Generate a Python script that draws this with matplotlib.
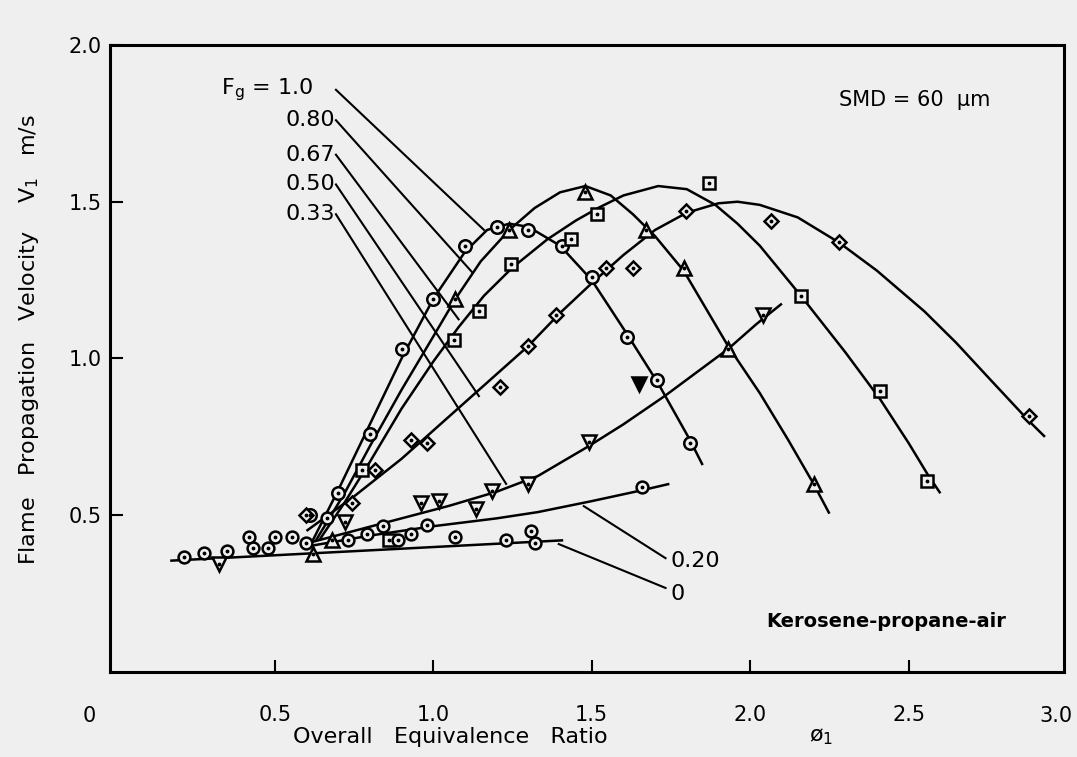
import matplotlib.pyplot as plt

# Curvas ajustadas: razao de equivalencia x velocidade
phi_f100 = [0.62, 0.70, 0.80, 0.90, 1.00, 1.10, 1.17, 1.24, 1.30, 1.40, 1.50, 1.61, 1.71, 1.81, 1.85]
v_f100 = [0.42, 0.58, 0.79, 1.00, 1.19, 1.34, 1.41, 1.43, 1.42, 1.36, 1.25, 1.08, 0.92, 0.74, 0.66]

phi_f080 = [0.63, 0.72, 0.80, 0.90, 1.00, 1.07, 1.15, 1.24, 1.32, 1.40, 1.48, 1.56, 1.63, 1.70,
            1.79, 1.86, 1.93, 2.03, 2.12, 2.20, 2.25]
v_f080 = [0.42, 0.57, 0.72, 0.90, 1.07, 1.19, 1.31, 1.41, 1.48, 1.53, 1.55, 1.52, 1.46, 1.39,
          1.28, 1.16, 1.04, 0.89, 0.74, 0.60, 0.505]

phi_f067 = [0.64, 0.72, 0.80, 0.90, 1.00, 1.08, 1.16, 1.25, 1.36, 1.45, 1.52, 1.60, 1.71, 1.80,
            1.89, 1.96, 2.03, 2.16, 2.30, 2.41, 2.50, 2.56, 2.60]
v_f067 = [0.42, 0.54, 0.67, 0.84, 0.99, 1.10, 1.20, 1.29, 1.38, 1.44, 1.48, 1.52, 1.55, 1.54,
          1.49, 1.43, 1.36, 1.20, 1.02, 0.87, 0.73, 0.63, 0.57]

phi_f050 = [0.60, 0.75, 0.90, 1.00, 1.10, 1.20, 1.30, 1.40, 1.50, 1.60, 1.70, 1.80, 1.90, 1.96,
            2.03, 2.15, 2.28, 2.40, 2.55, 2.65, 2.76, 2.88, 2.93]
v_f050 = [0.45, 0.56, 0.68, 0.77, 0.86, 0.95, 1.04, 1.145, 1.24, 1.33, 1.41, 1.465, 1.495, 1.50,
          1.49, 1.45, 1.37, 1.28, 1.15, 1.05, 0.93, 0.80, 0.75]

phi_f033 = [0.60, 0.75, 0.90, 1.05, 1.20, 1.33, 1.49, 1.60, 1.73, 1.85, 1.93, 2.02, 2.10]
v_f033 = [0.41, 0.45, 0.49, 0.53, 0.575, 0.625, 0.72, 0.79, 0.88, 0.97, 1.03, 1.11, 1.175]

phi_f020 = [0.60, 0.80, 1.00, 1.20, 1.33, 1.50, 1.66, 1.745]
v_f020 = [0.40, 0.435, 0.465, 0.49, 0.51, 0.545, 0.58, 0.60]

phi_f000 = [0.17, 1.41]
v_f000 = [0.355, 0.42]

# Pontos experimentais
pts_f100_x = [0.61, 0.70, 0.80, 0.90, 1.00, 1.10, 1.20, 1.30, 1.405, 1.50, 1.61, 1.705, 1.81]
pts_f100_y = [0.50, 0.57, 0.76, 1.03, 1.19, 1.36, 1.42, 1.41, 1.36, 1.26, 1.07, 0.93, 0.73]

pts_f080_x = [0.62, 0.68, 1.07, 1.24, 1.48, 1.67, 1.79, 1.93, 2.20]
pts_f080_y = [0.375, 0.42, 1.19, 1.41, 1.53, 1.41, 1.29, 1.03, 0.60]

pts_f067_x = [0.775, 1.065, 1.144, 1.245, 1.434, 1.516, 1.87, 2.16, 2.41, 2.557, 0.86]
pts_f067_y = [0.645, 1.06, 1.15, 1.30, 1.38, 1.46, 1.56, 1.20, 0.895, 0.61, 0.42]

pts_f050_x = [0.60, 0.745, 0.816, 0.93, 0.98, 1.21, 1.30, 1.387, 1.544, 1.63, 1.797, 2.065, 2.28, 2.88]
pts_f050_y = [0.50, 0.54, 0.645, 0.74, 0.73, 0.91, 1.04, 1.14, 1.287, 1.29, 1.47, 1.44, 1.37, 0.815]

pts_f033_x = [0.323, 0.72, 0.96, 1.017, 1.135, 1.185, 1.30, 1.49, 2.04]
pts_f033_y = [0.344, 0.48, 0.54, 0.545, 0.52, 0.577, 0.60, 0.735, 1.14]
pts_f033_cheio_x = [1.65]
pts_f033_cheio_y = [0.92]

pts_f020_x = [0.665, 0.79, 0.84, 0.93, 0.98, 1.66]
pts_f020_y = [0.49, 0.44, 0.465, 0.44, 0.47, 0.59]

pts_f000_x = [0.213, 0.276, 0.35, 0.42, 0.43, 0.48, 0.50, 0.555, 0.60, 0.73, 0.89, 1.07, 1.23, 1.31, 1.32]
pts_f000_y = [0.366, 0.38, 0.385, 0.43, 0.395, 0.395, 0.43, 0.43, 0.41, 0.42, 0.42, 0.43, 0.42, 0.45, 0.41]

# Rotulos das curvas (F_g) e pontas das linhas de chamada
rotulos = ["0.80", "0.67", "0.50", "0.33"]
rotulos_y = [1.76, 1.65, 1.555, 1.46]
chamada_fim_x = [1.121, 1.08, 1.144, 1.23]
chamada_fim_y = [1.277, 1.125, 0.88, 0.60]

xticks = [0.5, 1.0, 1.5, 2.0, 2.5]
xtick_labels = ["0.5", "1.0", "1.5", "2.0", "2.5"]
yticks = [0.5, 1.0, 1.5, 2.0]
ytick_labels = ["0.5", "1.0", "1.5", "2.0"]

fundo = '#efefef'
fig = plt.figure(figsize=(10.77, 7.57), dpi=100, facecolor=fundo)
ax = fig.add_axes([0.1021, 0.1123, 0.8858, 0.8283], facecolor=fundo)

lw = 1.8
for px, py in [(phi_f100, v_f100), (phi_f080, v_f080), (phi_f067, v_f067), (phi_f050, v_f050),
               (phi_f033, v_f033), (phi_f020, v_f020), (phi_f000, v_f000)]:
    ax.plot(px, py, color='k', lw=lw, solid_capstyle='butt', zorder=2)


def marcadores(xs, ys, m, ms, cheio=False):
    ax.plot(xs, ys, ls='', marker=m, ms=ms, mfc='k' if cheio else fundo, mec='k', mew=1.8, zorder=3)
    ax.plot(xs, ys, ls='', marker='.', ms=3.5, color='k', zorder=4)


marcadores(pts_f100_x, pts_f100_y, 'o', 9)
marcadores(pts_f080_x, pts_f080_y, '^', 9.5)
marcadores(pts_f067_x, pts_f067_y, 's', 8.5)
marcadores(pts_f050_x, pts_f050_y, 'D', 7.5)
marcadores(pts_f033_x, pts_f033_y, 'v', 9.5)
marcadores(pts_f033_cheio_x, pts_f033_cheio_y, 'v', 9.5, cheio=True)
marcadores(pts_f020_x, pts_f020_y, 'o', 8.5)
marcadores(pts_f000_x, pts_f000_y, 'o', 8.5)

# linhas de chamada
ax.plot([0.693, 1.16], [1.857, 1.41], color='k', lw=1.5)
for ly, fx, fy in zip(rotulos_y, chamada_fim_x, chamada_fim_y):
    ax.plot([0.693, fx], [ly, fy], color='k', lw=1.5)
ax.plot([1.733, 1.475], [0.363, 0.529], color='k', lw=1.5)
ax.plot([1.733, 1.396], [0.268, 0.408], color='k', lw=1.5)

fs = 15
ax.text(0.33, 1.857, r'$\mathregular{F_g}$ = 1.0', fontsize=16, va='center', ha='left')
for r, ly in zip(rotulos, rotulos_y):
    ax.text(0.69, ly, r, fontsize=16, va='center', ha='right')
ax.text(1.75, 0.354, "0.20", fontsize=16, va='center', ha='left')
ax.text(1.75, 0.25, "0", fontsize=16, va='center', ha='left')
ax.text(2.28, 1.825, "SMD = 60  μm", fontsize=fs, va='center', ha='left')
ax.text(2.05, 0.16, "Kerosene-propane-air", fontsize=14, va='center', ha='left', fontweight='bold')

ax.set_xlim(-0.02, 2.99)
ax.set_ylim(0, 2.0)
ax.set_xticks(xticks)
ax.set_xticklabels(xtick_labels)
ax.set_yticks(yticks)
ax.set_yticklabels(ytick_labels)
ax.tick_params(direction='in', length=9, width=1.5, labelsize=fs)
ax.tick_params(axis='x', pad=24)
ax.tick_params(axis='y', pad=6)
for s in ax.spines.values():
    s.set_linewidth(2.2)
ax.text(-0.085, -0.14, "0", fontsize=fs, ha='center', va='center')
ax.text(2.965, -0.14, "3.0", fontsize=fs, ha='center', va='center')

fig.text(0.418, 0.027, "Overall   Equivalence   Ratio", fontsize=16, ha='center', va='center')
fig.text(0.762, 0.027, r'$\mathregular{ø_1}$', fontsize=16, ha='center', va='center')
fig.text(0.027, 0.551, r'Flame   Propagation   Velocity    $\mathregular{V_1}$   m/s', fontsize=16,
         ha='center', va='center', rotation=90)

fig.savefig('out.png', dpi=100, facecolor=fundo)
